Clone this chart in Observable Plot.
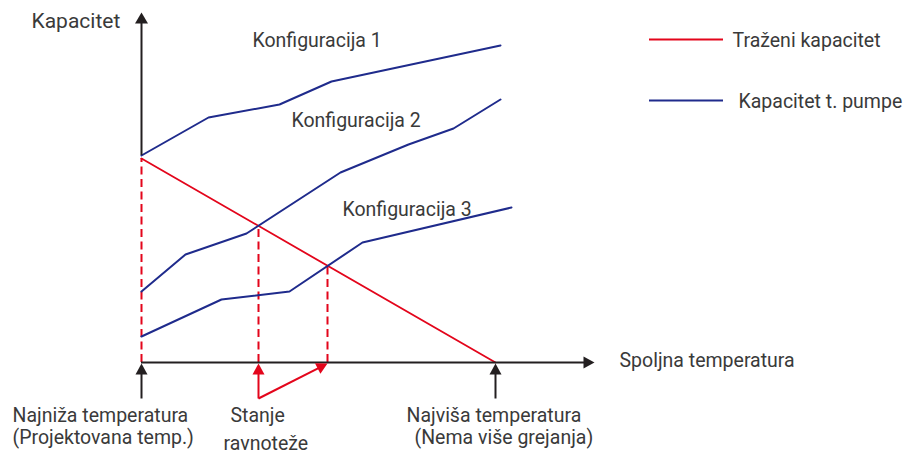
<!DOCTYPE html>
<html><head><meta charset="utf-8">
<script src="https://cdn.jsdelivr.net/npm/d3@7"></script>
<script src="https://cdn.jsdelivr.net/npm/@observablehq/plot@0.6"></script>
<style>html,body{margin:0;padding:0;background:#fff}</style>
</head><body><div id="chart"></div>
<script>
// Schematic values (x: outdoor temperature, y: capacity)
const requiredX = [0, 354];
const requiredY = [204, 0];
const config1X = [0, 67, 138, 190, 359];
const config1Y = [207, 245, 258, 281, 317];
const config2X = [0, 44, 105, 199, 267, 312, 359];
const config2Y = [71, 108, 129, 190, 218, 234, 263];
const config3X = [0, 80, 148, 221, 370];
const config3Y = [26, 63, 71, 120, 155];
// balance points (drop lines)
const dropX = [0, 117, 186];
const dropY = [204, 137, 97];
// axis extents
const yAxisFrom = 207, yAxisTip = 350;
const xAxisTip = 453;
// annotation arrows below the axis
const arrowX1 = [0, 354, 117, 117];
const arrowY1 = [-36, -36, -36, -36];
const arrowX2 = [0, 354, 117, 186];
const arrowY2 = [-1, -1, -1, -1];
const arrowColor = ["black", "black", "red", "red"];
// labels
const configLabels = ["Konfiguracija 1", "Konfiguracija 2", "Konfiguracija 3"];
const configLabelX = [111, 150, 201];
const configLabelY = [322, 242, 153];
const bottomLabels = ["Najniža temperatura", "(Projektovana temp.)", "Stanje", "ravnoteže", "Najviša temperatura", "(Nema više grejanja)"];
const bottomLabelX = [-129, -129, 89, 82, 265, 273];
const bottomLabelY = [-53, -75, -53, -81, -53, -75];
const legendLabels = ["Traženi kapacitet", "Kapacitet t. pumpe"];
const legendY = [323, 262];
const yTitle = "Kapacitet";
const xTitle = "Spoljna temperatura";

const RED = "#e3051b", BLUE = "#1f2b8c", INK = "#231f20", TXT = "#3a3a3a";
const FS = 19.5;
const pts = (xs, ys) => xs.map((x, i) => ({x, y: ys[i]}));

// filled arrow heads built from arrow endpoints (scale units are 1:1 with pixels)
function head(id, tipX, tipY, fromX, fromY, len, wid, color) {
  const dx = tipX - fromX, dy = tipY - fromY, d = Math.hypot(dx, dy);
  const ux = dx / d, uy = dy / d, bx = tipX - ux * len, by = tipY - uy * len;
  return [
    {id, color, x: tipX, y: tipY},
    {id, color, x: bx - uy * wid / 2, y: by + ux * wid / 2},
    {id, color, x: bx + uy * wid / 2, y: by - ux * wid / 2}
  ];
}
const heads = [
  ...head("ya", 0, yAxisTip, 0, 0, 11, 13, INK),
  ...head("xa", xAxisTip, 0, 0, 0, 11, 12, INK),
  ...arrowX1.flatMap((x1, i) => head("a" + i, arrowX2[i], arrowY2[i], x1, arrowY1[i], 11, 12, arrowColor[i] === "red" ? RED : INK))
];
const shafts = arrowX1.map((x1, i) => {
  const dx = arrowX2[i] - x1, dy = arrowY2[i] - arrowY1[i], d = Math.hypot(dx, dy);
  return {x1, y1: arrowY1[i], x2: arrowX2[i] - dx / d * 9, y2: arrowY2[i] - dy / d * 9,
          color: arrowColor[i] === "red" ? RED : INK};
});

const chart = Plot.plot({
  width: 906, height: 456,
  marginTop: 0, marginRight: 0, marginBottom: 0, marginLeft: 0,
  x: {domain: [-141, 765], axis: null},
  y: {domain: [-94, 362], axis: null},
  style: {fontFamily: "Roboto, sans-serif", background: "#fff"},
  marks: [
    Plot.ruleX(dropX.map((x, i) => ({x, y: dropY[i]})), {x: "x", y1: 0, y2: "y", stroke: RED, strokeWidth: 2, strokeDasharray: "8,4.5"}),
    Plot.line(pts(requiredX, requiredY), {x: "x", y: "y", stroke: RED, strokeWidth: 1.8}),
    Plot.line(pts(config1X, config1Y), {x: "x", y: "y", stroke: BLUE, strokeWidth: 2}),
    Plot.line(pts(config2X, config2Y), {x: "x", y: "y", stroke: BLUE, strokeWidth: 2}),
    Plot.line(pts(config3X, config3Y), {x: "x", y: "y", stroke: BLUE, strokeWidth: 2}),
    Plot.ruleX([0], {y1: yAxisFrom, y2: yAxisTip - 9, stroke: INK, strokeWidth: 2}),
    Plot.ruleY([0], {x1: 0, x2: xAxisTip - 9, stroke: INK, strokeWidth: 2}),
    Plot.link(shafts, {x1: "x1", y1: "y1", x2: "x2", y2: "y2", stroke: "color", strokeWidth: 2}),
    Plot.line(heads, {x: "x", y: "y", z: "id", fill: "color", stroke: "none", curve: "linear-closed"}),
    Plot.ruleY(legendY, {x1: 508, x2: 582, stroke: (d, i) => i === 0 ? RED : BLUE, strokeWidth: 2}),
    Plot.text([yTitle], {x: -110, y: 341, text: d => d, textAnchor: "start", fontSize: 21, fill: TXT}),
    Plot.text([xTitle], {x: 478, y: 2, text: d => d, textAnchor: "start", fontSize: FS, fill: TXT}),
    Plot.text(configLabels, {x: (d, i) => configLabelX[i], y: (d, i) => configLabelY[i], text: d => d, textAnchor: "start", fontSize: FS, fill: TXT}),
    Plot.text(bottomLabels, {x: (d, i) => bottomLabelX[i], y: (d, i) => bottomLabelY[i], text: d => d, textAnchor: "start", fontSize: FS, fill: TXT}),
    Plot.text(legendLabels, {x: (d, i) => i === 0 ? 591 : 597, y: (d, i) => legendY[i] - 1, text: d => d, textAnchor: "start", fontSize: FS, fill: TXT})
  ]
});
document.getElementById("chart").appendChild(chart);
</script>
</body></html>
